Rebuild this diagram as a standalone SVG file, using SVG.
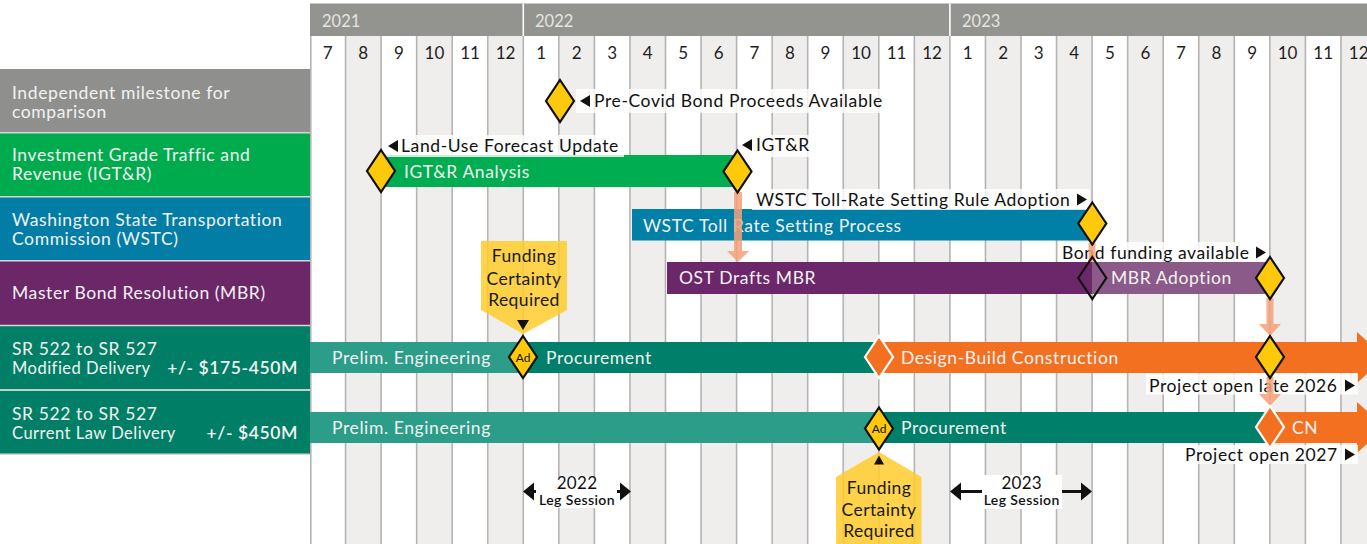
<svg xmlns="http://www.w3.org/2000/svg" width="1367" height="544" viewBox="0 0 1367 544">
<style>
text{font-family:Lato,"Liberation Sans",sans-serif}
.mo{font-size:17px;fill:#1e1e1e;text-anchor:middle}
.yr{font-size:16.5px;fill:#e4e4e2}
.pl{font-size:17.5px;fill:#f2f2f2;letter-spacing:.6px}
.pl2{font-size:16.5px;fill:#f2f2f2;letter-spacing:.5px}
.amt{font-size:17.5px;fill:#f4f4f4;letter-spacing:.6px;font-weight:600;text-anchor:end}
.bt{font-size:17.5px;fill:#f2f2f2;letter-spacing:.6px}
.lb{font-size:17.5px;fill:#111;letter-spacing:.6px}
.lbox{fill:#ffffff;fill-opacity:.8}
.dia{fill:#fec80b;stroke:#111;stroke-width:2.2;stroke-linejoin:miter}
.odia{fill:#f37021;stroke:#ffffff;stroke-width:2.2}
.tri{fill:#111}
.call{fill:#ffcb2c;fill-opacity:.85}
.ct{font-size:17.5px;fill:#1a1a1a;text-anchor:middle;letter-spacing:.4px}
.ad{font-size:12px;fill:#111;text-anchor:middle}
.conn{fill:#f4a078;fill-opacity:.85}
.leg1{font-size:17px;fill:#111;text-anchor:middle;letter-spacing:.3px}
.leg2{font-size:14px;fill:#111;text-anchor:middle;font-weight:600;letter-spacing:.4px}
</style>
<defs>
<polygon id="dm" points="0,-21 14,0 0,21 -14,0"/>
<polygon id="tl" points="0,0 10,-6 10,6"/>
<polygon id="tr" points="0,0 -10,-6 -10,6"/>
</defs>

<g id="grid">
<rect x="310" y="36" width="1057" height="508" fill="#ffffff"/>
<g fill="#efeeec">
<rect x="345.55" y="36" width="35.55" height="508"/>
<rect x="416.65" y="36" width="35.55" height="508"/>
<rect x="487.75" y="36" width="35.55" height="508"/>
<rect x="558.85" y="36" width="35.55" height="508"/>
<rect x="629.95" y="36" width="35.55" height="508"/>
<rect x="701.05" y="36" width="35.55" height="508"/>
<rect x="772.15" y="36" width="35.55" height="508"/>
<rect x="843.25" y="36" width="35.55" height="508"/>
<rect x="914.35" y="36" width="35.55" height="508"/>
<rect x="985.45" y="36" width="35.55" height="508"/>
<rect x="1056.55" y="36" width="35.55" height="508"/>
<rect x="1127.65" y="36" width="35.55" height="508"/>
<rect x="1198.75" y="36" width="35.55" height="508"/>
<rect x="1269.85" y="36" width="35.55" height="508"/>
<rect x="1340.95" y="36" width="35.55" height="508"/>
</g>
<path stroke="#b4b4b4" stroke-width="1.6" fill="none" d="M310.8,36V544M345.55,36V544M381.1,36V544M416.65,36V544M452.2,36V544M487.75,36V544M523.3,36V544M558.85,36V544M594.4,36V544M629.95,36V544M665.5,36V544M701.05,36V544M736.6,36V544M772.15,36V544M807.7,36V544M843.25,36V544M878.8,36V544M914.35,36V544M949.9,36V544M985.45,36V544M1021,36V544M1056.55,36V544M1092.1,36V544M1127.65,36V544M1163.2,36V544M1198.75,36V544M1234.3,36V544M1269.85,36V544M1305.4,36V544M1340.95,36V544"/>
</g>

<g id="header">
<rect x="310" y="3.5" width="1057" height="32.5" fill="#939490"/>
<path stroke="#ffffff" stroke-width="1.6" d="M523.3,3.5V36M949.9,3.5V36"/>
<text class="yr" x="322" y="27">2021</text>
<text class="yr" x="535" y="27">2022</text>
<text class="yr" x="962" y="27">2023</text>
<text class="mo" x="327.8" y="59">7</text>
<text class="mo" x="363.3" y="59">8</text>
<text class="mo" x="398.9" y="59">9</text>
<text class="mo" x="434.4" y="59">10</text>
<text class="mo" x="470" y="59">11</text>
<text class="mo" x="505.5" y="59">12</text>
<text class="mo" x="541.1" y="59">1</text>
<text class="mo" x="576.6" y="59">2</text>
<text class="mo" x="612.2" y="59">3</text>
<text class="mo" x="647.7" y="59">4</text>
<text class="mo" x="683.3" y="59">5</text>
<text class="mo" x="718.8" y="59">6</text>
<text class="mo" x="754.4" y="59">7</text>
<text class="mo" x="789.9" y="59">8</text>
<text class="mo" x="825.5" y="59">9</text>
<text class="mo" x="861" y="59">10</text>
<text class="mo" x="896.6" y="59">11</text>
<text class="mo" x="932.1" y="59">12</text>
<text class="mo" x="967.7" y="59">1</text>
<text class="mo" x="1003.2" y="59">2</text>
<text class="mo" x="1038.8" y="59">3</text>
<text class="mo" x="1074.3" y="59">4</text>
<text class="mo" x="1109.9" y="59">5</text>
<text class="mo" x="1145.4" y="59">6</text>
<text class="mo" x="1181" y="59">7</text>
<text class="mo" x="1216.5" y="59">8</text>
<text class="mo" x="1252.1" y="59">9</text>
<text class="mo" x="1287.6" y="59">10</text>
<text class="mo" x="1323.2" y="59">11</text>
<text class="mo" x="1358.7" y="59">12</text>
</g>

<g id="row-labels">
<rect x="0" y="69" width="310" height="63.5" fill="#8f908d"/>
<rect x="0" y="133" width="310" height="63.5" fill="#00ab4e"/>
<rect x="0" y="197" width="310" height="63.5" fill="#027ea6"/>
<rect x="0" y="261" width="310" height="64" fill="#6b2768"/>
<rect x="0" y="326" width="310" height="63.5" fill="#007f66"/>
<rect x="0" y="390.5" width="310" height="63.5" fill="#007f66"/>
<path stroke="#d6d6d6" stroke-width="1.5" d="M0,132.7H310M0,196.7H310M0,260.7H310M0,325.5H310M0,390H310M0,454.2H310"/>
<text class="pl" x="12" y="98.5">Independent milestone for</text>
<text class="pl" x="12" y="117.5">comparison</text>
<text class="pl" x="12" y="161">Investment Grade Traffic and</text>
<text class="pl" x="12" y="180">Revenue (IGT&amp;R)</text>
<text class="pl" x="12" y="226">Washington State Transportation</text>
<text class="pl" x="12" y="245">Commission (WSTC)</text>
<text class="pl" x="12" y="299">Master Bond Resolution (MBR)</text>
<text class="pl" x="12" y="354.5">SR 522 to SR 527</text>
<text class="pl2" x="12" y="373.5">Modified Delivery</text>
<text class="amt" x="298" y="373.5">+/- $175-450M</text>
<text class="pl" x="12" y="419.5">SR 522 to SR 527</text>
<text class="pl2" x="12" y="438.5">Current Law Delivery</text>
<text class="amt" x="298" y="438.5">+/- $450M</text>
</g>

<g id="bars">
<rect x="381" y="155" width="356" height="32" fill="#00ad50"/>
<text class="bt" x="404" y="177.5">IGT&amp;R Analysis</text>
<rect x="632" y="209" width="460" height="31.5" fill="#007fa7"/>
<text class="bt" x="643" y="232">WSTC Toll Rate Setting Process</text>
<rect x="667" y="262" width="425" height="32" fill="#6b2769"/>
<rect x="1092" y="262" width="178" height="32" fill="#8b5a88"/>
<text class="bt" x="679" y="284">OST Drafts MBR</text>
<text class="bt" x="1111" y="284">MBR Adoption</text>
<rect x="310" y="342" width="213.3" height="31" fill="#2b9d89"/>
<rect x="523.3" y="342" width="355.5" height="31" fill="#00806a"/>
<polygon points="878.8,342 1357,342 1357,332 1385,357.5 1357,383 1357,373 878.8,373" fill="#f37021"/>
<text class="bt" x="332" y="363.5">Prelim. Engineering</text>
<text class="bt" x="546" y="363.5">Procurement</text>
<text class="bt" x="901" y="363.5">Design-Build Construction</text>
<rect x="310" y="412" width="568.8" height="31" fill="#2b9d89"/>
<rect x="878.8" y="412" width="391.1" height="31" fill="#00806a"/>
<polygon points="1269.85,412 1357,412 1357,402 1385,427.5 1357,453 1357,443 1269.85,443" fill="#f37021"/>
<text class="bt" x="332" y="433.5">Prelim. Engineering</text>
<text class="bt" x="901" y="433.5">Procurement</text>
<text class="bt" x="1292" y="433.5">CN</text>
</g>

<g id="labels">
<rect class="lbox" x="576" y="89" width="312" height="24"/>
<use href="#tl" x="580" y="101" class="tri"/>
<text class="lb" x="594" y="107">Pre-Covid Bond Proceeds Available</text>
<rect class="lbox" x="385" y="135" width="239" height="22"/>
<use href="#tl" x="388" y="146" class="tri"/>
<text class="lb" x="401" y="152">Land-Use Forecast Update</text>
<rect class="lbox" x="739" y="135" width="75" height="22"/>
<use href="#tl" x="742" y="145" class="tri"/>
<text class="lb" x="756" y="151">IGT&amp;R</text>
<rect class="lbox" x="752" y="189" width="338" height="21"/>
<text class="lb" x="756" y="205.5">WSTC Toll-Rate Setting Rule Adoption</text>
<use href="#tr" x="1087" y="199.5" class="tri"/>
<rect class="lbox" x="1058" y="242" width="210" height="20"/>
<text class="lb" x="1062" y="258.5">Bond funding available</text>
<use href="#tr" x="1266" y="252.5" class="tri"/>
<rect class="lbox" x="1146" y="373.5" width="212" height="21"/>
<text class="lb" x="1149" y="391.5">Project open late 2026</text>
<use href="#tr" x="1355" y="385.5" class="tri"/>
<rect class="lbox" x="1182" y="445" width="176" height="19"/>
<text class="lb" x="1185" y="460.5">Project open 2027</text>
<use href="#tr" x="1355" y="454.5" class="tri"/>
</g>

<g id="connectors">
<polygon class="conn" points="734,192 742,192 742,251 749,251 738,262 727,251 734,251"/>
<polygon class="conn" points="1088.5,243 1095.5,243 1095.5,262 1088.5,262"/>
<polygon class="conn" points="1266.5,298 1273.5,298 1273.5,324 1281,324 1270,336 1259,324 1266.5,324"/>
<polygon class="conn" points="1266.5,377 1273.5,377 1273.5,394 1281,394 1270,406 1259,394 1266.5,394"/>
</g>

<g id="milestones">
<use href="#dm" x="560" y="101" class="dia"/>
<use href="#dm" x="381" y="171" class="dia"/>
<use href="#dm" x="737.5" y="171.5" class="dia"/>
<use href="#dm" x="1092.3" y="223.5" class="dia"/>
<use href="#dm" x="1092.3" y="278" fill="none" stroke="#111" stroke-width="2.2"/>
<use href="#dm" x="1270" y="278" class="dia"/>
<use href="#dm" x="523" y="357" class="dia"/>
<text class="ad" x="523" y="361.5">Ad</text>
<use href="#dm" x="879" y="357" class="odia"/>
<use href="#dm" x="1270" y="357" class="dia"/>
<use href="#dm" x="879" y="428.5" class="dia"/>
<text class="ad" x="879" y="433">Ad</text>
<use href="#dm" x="1270" y="427" class="odia"/>
</g>

<g id="funding-callout-1">
<polygon class="call" points="481,241 567,241 567,310 523,334 481,310"/>
<text class="ct" x="524" y="262">Funding</text>
<text class="ct" x="524" y="284.5">Certainty</text>
<text class="ct" x="524" y="306">Required</text>
<polygon class="tri" points="517,320 529,320 523,330"/>
</g>

<g id="funding-callout-2">
<polygon class="call" points="879,452 921.5,477 921.5,544 836,544 836,477"/>
<polygon class="tri" points="874,464.5 884,464.5 879,455.5"/>
<text class="ct" x="879" y="493.5">Funding</text>
<text class="ct" x="879" y="515.5">Certainty</text>
<text class="ct" x="879" y="537">Required</text>
</g>

<g id="leg-2022">
<path d="M532,491.5H622" stroke="#111" stroke-width="3"/>
<polygon class="tri" points="523,491.5 534,482.5 534,500.5"/>
<polygon class="tri" points="631,491.5 620,482.5 620,500.5"/>
<rect x="536" y="477" width="81" height="31" fill="#ffffff"/>
<text class="leg1" x="577" y="489">2022</text>
<text class="leg2" x="577" y="505">Leg Session</text>
</g>

<g id="leg-2023">
<path d="M958,491.5H1084" stroke="#111" stroke-width="3"/>
<polygon class="tri" points="950,491.5 961,482.5 961,500.5"/>
<polygon class="tri" points="1092,491.5 1081,482.5 1081,500.5"/>
<rect x="982" y="475" width="80" height="34" fill="#ffffff"/>
<text class="leg1" x="1021.7" y="489">2023</text>
<text class="leg2" x="1021.7" y="505">Leg Session</text>
</g>
</svg>
